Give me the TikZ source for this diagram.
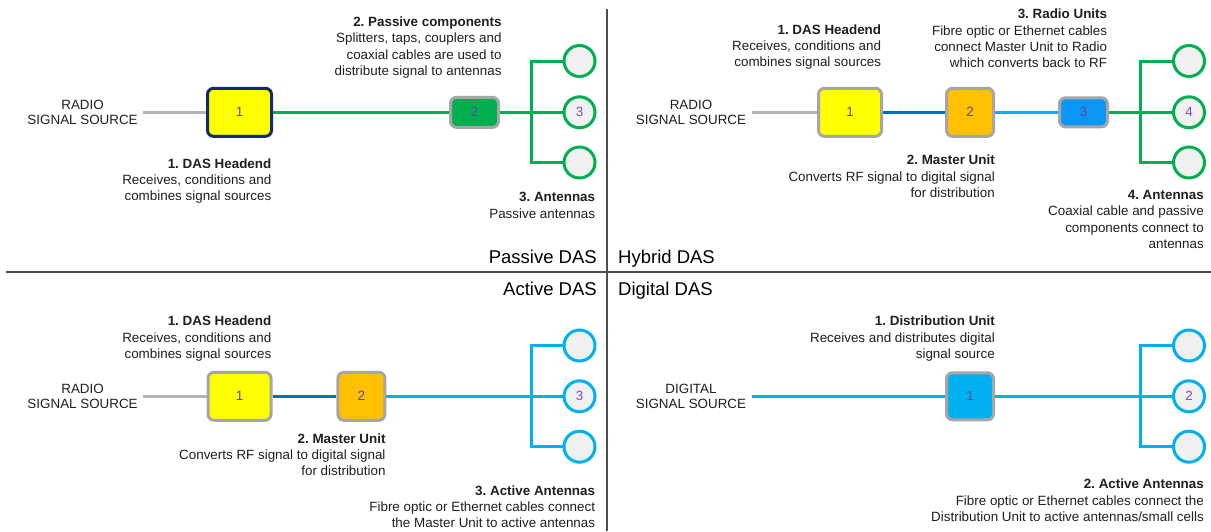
\documentclass[tikz,border=0pt]{standalone}
\usepackage{fontspec}
\setmainfont{Liberation Sans}
\usetikzlibrary{backgrounds}
\definecolor{dgreen}{HTML}{00B050}
\definecolor{dblue}{HTML}{0070C0}
\definecolor{lblue}{HTML}{00B0F0}
\definecolor{rublue}{HTML}{0A96F2}
\definecolor{yel}{HTML}{FFFF00}
\definecolor{org}{HTML}{FFC000}
\definecolor{bordergray}{HTML}{A6A6A6}
\definecolor{navy}{HTML}{12287A}
\definecolor{numcol}{HTML}{6446A0}
\definecolor{antnum}{HTML}{8050B0}
\definecolor{antfill}{HTML}{F0F0F0}
\definecolor{txt}{HTML}{1F1F1F}
\definecolor{divcol}{HTML}{4D4D4D}
\definecolor{srcgray}{HTML}{B4B4B4}
\frenchspacing
\begin{document}
\begin{tikzpicture}[x=1pt,y=-1pt,
  unit/.style={draw=bordergray, line width=3pt, rounded corners=6pt, inner sep=0pt,
    text=numcol, font=\fontsize{13.4}{16}\selectfont},
  ant/.style={circle, draw=#1, line width=3pt, fill=antfill, minimum size=31pt,
    inner sep=0pt, text=antnum, font=\fontsize{13.4}{16}\selectfont},
  lbl/.style={anchor=north east, align=right, inner sep=0pt, text=txt,
    font=\fontsize{13.4}{16.3}\selectfont},
  src/.style={align=center, inner sep=0pt, text=txt, font=\fontsize{13.4}{15.5}\selectfont},
  ttl/.style={inner sep=0pt, text=black, font=\fontsize{18.5}{20}\selectfont},
  wire/.style={line width=3pt, draw=#1},
  divider/.style={draw=divcol, line width=1.6pt}]
\useasboundingbox (0,0) rectangle (1211,531);

% ---------- Passive DAS ----------
\node[src] (srcA) at (82.6,112.3) {RADIO\\SIGNAL SOURCE};
\node[unit, draw=navy, fill=yel, minimum width=64pt, minimum height=48pt] (a1) at (239.5,112.3) {1};
\node[unit, fill=dgreen, minimum width=48pt, minimum height=30pt] (a2) at (474.5,112.3) {2};
\node[ant=dgreen] (aA1) at (579.5,61) {};
\node[ant=dgreen] (aA2) at (579.5,112.3) {3};
\node[ant=dgreen] (aA3) at (579.5,162.5) {};
\coordinate (aT) at (531,112.3);
\node[lbl] (aL2) at (501.7,16.7) {\textbf{2. Passive components}\\Splitters, taps, couplers and\\coaxial cables are used to\\distribute signal to antennas};
\node[lbl] (aL1) at (271.5,158.3) {\textbf{1. DAS Headend}\\Receives, conditions and\\combines signal sources};
\node[lbl] (aL3) at (595.3,192.3) {\textbf{3. Antennas}\\Passive antennas};
\node[ttl, anchor=base east] (aTitle) at (597,263.3) {Passive DAS};

% ---------- Hybrid DAS ----------
\node[src] (srcB) at (691,112.3) {RADIO\\SIGNAL SOURCE};
\node[unit, fill=yel, minimum width=63pt, minimum height=48pt] (b1) at (850,112.3) {1};
\node[unit, fill=org, minimum width=47pt, minimum height=48pt] (b2) at (970,112.3) {2};
\node[unit, fill=rublue, minimum width=48pt, minimum height=29pt] (b3) at (1083.5,112.3) {3};
\node[ant=dgreen] (bA1) at (1189,61) {};
\node[ant=dgreen] (bA2) at (1189,112.3) {4};
\node[ant=dgreen] (bA3) at (1189,162.5) {};
\coordinate (bT) at (1140,112.3);
\node[lbl] (bL1) at (881.3,24.3) {\textbf{1. DAS Headend}\\Receives, conditions and\\combines signal sources};
\node[lbl] (bL3) at (1107.3,9) {\textbf{3. Radio Units}\\Fibre optic or Ethernet cables\\connect Master Unit to Radio\\which converts back to RF};
\node[lbl] (bL2) at (995,155) {\textbf{2. Master Unit}\\Converts RF signal to digital signal\\for distribution};
\node[lbl] (bL4) at (1204,190) {\textbf{4. Antennas}\\Coaxial cable and passive\\components connect to\\antennas};
\node[ttl, anchor=base west] (bTitle) at (618,263.3) {Hybrid DAS};

% ---------- Active DAS ----------
\node[src] (srcC) at (82.6,396.3) {RADIO\\SIGNAL SOURCE};
\node[unit, fill=yel, minimum width=63pt, minimum height=48pt] (c1) at (239.5,396.3) {1};
\node[unit, fill=org, minimum width=47pt, minimum height=48pt] (c2) at (361.4,396.3) {2};
\node[ant=lblue] (cA1) at (579.5,345.5) {};
\node[ant=lblue] (cA2) at (579.5,396.3) {3};
\node[ant=lblue] (cA3) at (579.5,446.7) {};
\coordinate (cT) at (531,396.3);
\node[lbl] (cL1) at (271.5,316) {\textbf{1. DAS Headend}\\Receives, conditions and\\combines signal sources};
\node[lbl] (cL2) at (385.7,433.3) {\textbf{2. Master Unit}\\Converts RF signal to digital signal\\for distribution};
\node[lbl] (cL3) at (595.3,485.3) {\textbf{3. Active Antennas}\\Fibre optic or Ethernet cables connect\\the Master Unit to active antennas};
\node[ttl, anchor=base east] (cTitle) at (597,295.6) {Active DAS};

% ---------- Digital DAS ----------
\node[src] (srcD) at (691,396.3) {DIGITAL\\SIGNAL SOURCE};
\node[unit, fill=lblue, minimum width=47pt, minimum height=47pt] (d1) at (970,396.3) {1};
\node[ant=lblue] (dA1) at (1189,345.5) {};
\node[ant=lblue] (dA2) at (1189,396.3) {2};
\node[ant=lblue] (dA3) at (1189,446.7) {};
\coordinate (dT) at (1140,396.3);
\node[lbl] (dL1) at (995,316) {\textbf{1. Distribution Unit}\\Receives and distributes digital\\signal source};
\node[lbl] (dL2) at (1204,479) {\textbf{2. Active Antennas}\\Fibre optic or Ethernet cables connect the\\Distribution Unit to active antennas/small cells};
\node[ttl, anchor=base west] (dTitle) at (618,295.6) {Digital DAS};

\begin{scope}[on background layer]
  \fill[white] (0,0) rectangle (1211,531);
  % passive
  \draw[wire=srcgray] ([xshift=5.5pt]srcA.east) -- (a1.west);
  \draw[wire=dgreen] (a1.east) -- (a2.west);
  \draw[wire=dgreen] (a2.east) -- (aA2.west);
  \draw[wire=dgreen] (aA1.west) -| (aT) |- (aA3.west);
  % hybrid
  \draw[wire=srcgray] ([xshift=5.5pt]srcB.east) -- (b1.west);
  \draw[wire=dblue] (b1.east) -- (b2.west);
  \draw[wire=lblue] (b2.east) -- (b3.west);
  \draw[wire=dgreen] (b3.east) -- (bA2.west);
  \draw[wire=dgreen] (bA1.west) -| (bT) |- (bA3.west);
  % active
  \draw[wire=srcgray] ([xshift=5.5pt]srcC.east) -- (c1.west);
  \draw[wire=dblue] (c1.east) -- (c2.west);
  \draw[wire=lblue] (c2.east) -- (cA2.west);
  \draw[wire=lblue] (cA1.west) -| (cT) |- (cA3.west);
  % digital
  \draw[wire=lblue] ([xshift=5.5pt]srcD.east) -- (d1.west);
  \draw[wire=lblue] (d1.east) -- (dA2.west);
  \draw[wire=lblue] (dA1.west) -| (dT) |- (dA3.west);
  % dividers
  \draw[divider] (607,9) -- (607,531);
  \draw[divider] (6,272) -- (1211,272);
\end{scope}
\end{tikzpicture}
\end{document}
